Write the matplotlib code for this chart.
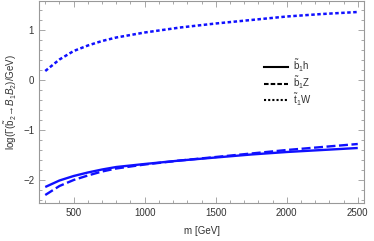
import matplotlib
matplotlib.use("Agg")
import matplotlib.pyplot as plt
from matplotlib.lines import Line2D
from matplotlib.ticker import MultipleLocator

plt.rcParams['font.family'] = ['Liberation Sans', 'DejaVu Sans']
plt.rcParams['mathtext.fontset'] = 'custom'
plt.rcParams['mathtext.rm'] = 'Liberation Sans'
plt.rcParams['mathtext.it'] = 'Liberation Sans:italic'
plt.rcParams['mathtext.bf'] = 'Liberation Sans:bold'

# data
m_vals = [300, 400, 500, 600, 700, 800, 900, 1000, 1250, 1500, 1750, 2000, 2250, 2500]
b1h = [-2.14, -2.01, -1.92, -1.85, -1.79, -1.74, -1.71, -1.68, -1.61, -1.55, -1.49, -1.44, -1.40, -1.36]
b1Z = [-2.30, -2.12, -2.00, -1.91, -1.83, -1.77, -1.73, -1.69, -1.61, -1.54, -1.47, -1.40, -1.34, -1.28]
t1W = [0.18, 0.41, 0.58, 0.69, 0.78, 0.85, 0.90, 0.95, 1.05, 1.13, 1.20, 1.27, 1.32, 1.36]

labels = [r'$\tilde{\rm b}_1$h', r'$\tilde{\rm b}_1$Z', r'$\tilde{\rm t}_1$W']

blue = '#1010ff'
gray = '#999999'
txt = '#333333'

fig = plt.figure(figsize=(3.74, 2.41), dpi=100)
ax = fig.add_axes([39/374, 38/241, 325/374, 202/241])

ax.plot(m_vals, b1h, color=blue, lw=1.7, solid_capstyle='butt')
ax.plot(m_vals, b1Z, color=blue, lw=1.7, dashes=(3.8, 1.5))
ax.plot(m_vals, t1W, color=blue, lw=1.8, dashes=(1.4, 1.0))

ax.set_xlim(256, 2544)
ax.set_ylim(-2.46, 1.58)

ax.xaxis.set_major_locator(MultipleLocator(500))
ax.xaxis.set_minor_locator(MultipleLocator(100))
ax.yaxis.set_major_locator(MultipleLocator(1))
ax.yaxis.set_minor_locator(MultipleLocator(0.2))
ax.tick_params(which='both', direction='in', top=True, right=True, color=gray,
               labelsize=7, labelcolor=txt, width=0.6)
ax.tick_params(which='major', length=4)
ax.tick_params(which='minor', length=2)
for s in ax.spines.values():
    s.set_color(gray)
    s.set_linewidth(0.8)

ax.set_xlabel('m [GeV]', fontsize=7, color=txt, labelpad=6)
ax.set_ylabel(r'log($\Gamma(\tilde{\rm b}_2\!\rightarrow\! B_1 B_2)$/GeV)', fontsize=7, color=txt, labelpad=3)

handles = [Line2D([], [], color='black', lw=1.5),
           Line2D([], [], color='black', lw=1.5, dashes=(2.2, 1.0)),
           Line2D([], [], color='black', lw=1.5, dashes=(1.0, 1.0))]
ax.legend(handles, labels, loc='upper left', bbox_to_anchor=(0.665, 0.765), frameon=False,
          fontsize=7, handlelength=2.5, handletextpad=0.45, labelspacing=0.0,
          labelcolor=txt)

fig.savefig('out.png', dpi=100)
